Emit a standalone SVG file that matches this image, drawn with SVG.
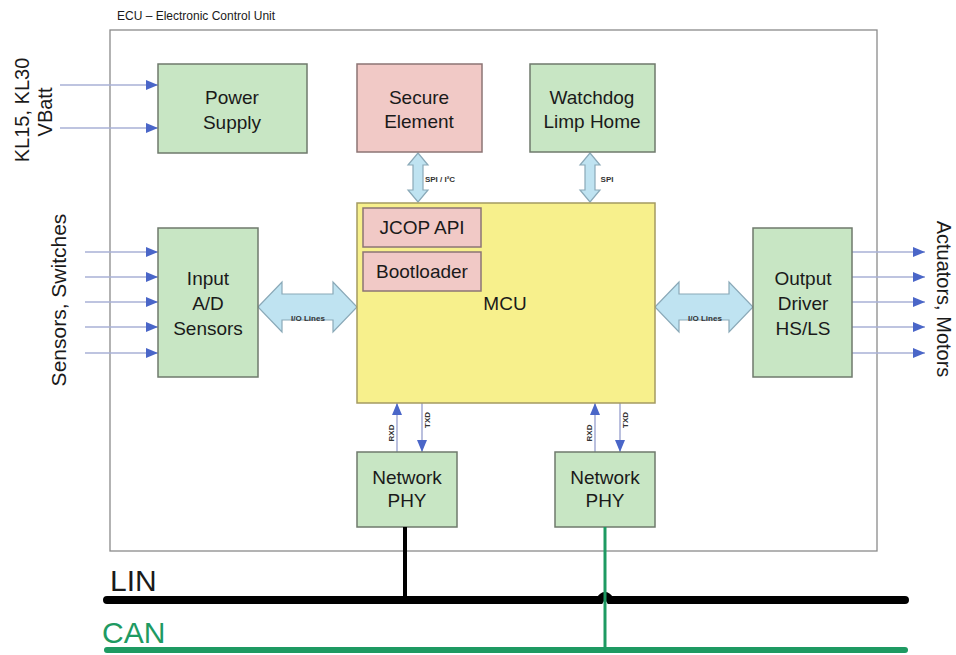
<svg xmlns="http://www.w3.org/2000/svg" width="956" height="655" viewBox="0 0 956 655">
<style>
text{font-family:"Liberation Sans",Arial,sans-serif;fill:#1a1a1a}
.box{stroke:#6f7a6c;stroke-width:1.5}
.g{fill:#c8e6c4}
.p{fill:#f1c9c6;stroke:#8c7474}
.y{fill:#f7f08c;stroke:#a49a62}
.lbl{font-size:19px;text-anchor:middle}
.small{font-size:8px;text-anchor:middle;font-weight:bold;fill:#333}
.in{stroke:#a9b0d6;stroke-width:1.6;fill:none}
.dbl{fill:#bfe3f1;stroke:#8aa9b8;stroke-width:1.2}
</style>
<defs>
<marker id="ah" viewBox="0 0 12 10" refX="12" refY="5" markerWidth="12" markerHeight="10" markerUnits="userSpaceOnUse" orient="auto">
<path d="M0,0 L12,5 L0,10 z" fill="#4a66c8"/>
</marker>
</defs>
<rect width="956" height="655" fill="#ffffff"/>

<g id="ecu">
<rect x="110" y="30" width="767" height="521" fill="none" stroke="#8a8a8a" stroke-width="1.3"/>
<text x="117" y="20" font-size="12">ECU – Electronic Control Unit</text>
</g>

<g id="side-labels">
<text transform="translate(29,110) rotate(-90)" font-size="20" text-anchor="middle">KL15, KL30</text>
<text transform="translate(52,112) rotate(-90)" font-size="20" text-anchor="middle">VBatt</text>
<text transform="translate(66,300) rotate(-90)" font-size="21" text-anchor="middle">Sensors, Switches</text>
<text transform="translate(937,299) rotate(90)" font-size="20" text-anchor="middle">Actuators, Motors</text>
</g>

<g id="connectors">
<line class="in" x1="60" y1="85" x2="158" y2="85" marker-end="url(#ah)"/>
<line class="in" x1="60" y1="128" x2="158" y2="128" marker-end="url(#ah)"/>
<line class="in" x1="85" y1="252" x2="158" y2="252" marker-end="url(#ah)"/>
<line class="in" x1="85" y1="277" x2="158" y2="277" marker-end="url(#ah)"/>
<line class="in" x1="85" y1="302" x2="158" y2="302" marker-end="url(#ah)"/>
<line class="in" x1="85" y1="327" x2="158" y2="327" marker-end="url(#ah)"/>
<line class="in" x1="85" y1="353" x2="158" y2="353" marker-end="url(#ah)"/>
<line class="in" x1="852" y1="252" x2="925" y2="252" marker-end="url(#ah)"/>
<line class="in" x1="852" y1="277" x2="925" y2="277" marker-end="url(#ah)"/>
<line class="in" x1="852" y1="302" x2="925" y2="302" marker-end="url(#ah)"/>
<line class="in" x1="852" y1="327" x2="925" y2="327" marker-end="url(#ah)"/>
<line class="in" x1="852" y1="353" x2="925" y2="353" marker-end="url(#ah)"/>

<polygon class="dbl" points="258,307 282,282 282,294 333,294 333,282 357,307 333,332 333,320 282,320 282,332"/>
<text class="small" x="308" y="321">I/O Lines</text>
<polygon class="dbl" points="655,307 679,282 679,294 729,294 729,282 753,307 729,332 729,320 679,320 679,332"/>
<text class="small" x="705" y="321">I/O Lines</text>

<polygon class="dbl" points="418,153 428,165 423,165 423,190 428,190 418,202 408,190 413,190 413,165 408,165"/>
<text class="small" x="440" y="182">SPI / I²C</text>
<polygon class="dbl" points="590,153 600,165 595,165 595,190 600,190 590,202 580,190 585,190 585,165 580,165"/>
<text class="small" x="607" y="182">SPI</text>

<line class="in" x1="397" y1="452" x2="397" y2="403" marker-end="url(#ah)"/>
<line class="in" x1="422" y1="403" x2="422" y2="452" marker-end="url(#ah)"/>
<line class="in" x1="595" y1="452" x2="595" y2="403" marker-end="url(#ah)"/>
<line class="in" x1="620" y1="403" x2="620" y2="452" marker-end="url(#ah)"/>
<text class="small" transform="translate(394,433) rotate(-90)">RXD</text>
<text class="small" transform="translate(430,420) rotate(-90)">TXD</text>
<text class="small" transform="translate(592,433) rotate(-90)">RXD</text>
<text class="small" transform="translate(628,420) rotate(-90)">TXD</text>
</g>

<g id="power-supply">
<rect class="box g" x="158" y="64" width="149" height="89"/>
<text class="lbl" x="232" y="104">Power</text>
<text class="lbl" x="232" y="129">Supply</text>
</g>

<g id="secure-element">
<rect class="box p" x="357" y="64" width="125" height="88"/>
<text class="lbl" x="419" y="104">Secure</text>
<text class="lbl" x="419" y="128">Element</text>
</g>

<g id="watchdog">
<rect class="box g" x="530" y="64" width="125" height="88"/>
<text class="lbl" x="592" y="104">Watchdog</text>
<text class="lbl" x="592" y="128">Limp Home</text>
</g>

<g id="input">
<rect class="box g" x="158" y="228" width="100" height="149"/>
<text class="lbl" x="208" y="285">Input</text>
<text class="lbl" x="208" y="310">A/D</text>
<text class="lbl" x="208" y="335">Sensors</text>
</g>

<g id="mcu">
<rect class="box y" x="357" y="203" width="298" height="200"/>
<text class="lbl" x="505" y="310">MCU</text>
</g>

<g id="jcop">
<rect class="box p" x="363" y="208" width="118" height="39"/>
<text class="lbl" x="422" y="234" font-size="18">JCOP API</text>
</g>

<g id="bootloader">
<rect class="box p" x="363" y="252" width="118" height="39"/>
<text class="lbl" x="422" y="278" font-size="18">Bootloader</text>
</g>

<g id="output">
<rect class="box g" x="753" y="228" width="99" height="149"/>
<text class="lbl" x="803" y="285">Output</text>
<text class="lbl" x="803" y="310">Driver</text>
<text class="lbl" x="803" y="335">HS/LS</text>
</g>

<g id="phy1">
<rect class="box g" x="357" y="452" width="100" height="75"/>
<text class="lbl" x="407" y="484">Network</text>
<text class="lbl" x="407" y="507">PHY</text>
</g>

<g id="phy2">
<rect class="box g" x="555" y="452" width="100" height="75"/>
<text class="lbl" x="605" y="484">Network</text>
<text class="lbl" x="605" y="507">PHY</text>
</g>

<g id="buses">
<line x1="405" y1="527" x2="405" y2="600" stroke="#000" stroke-width="4"/>
<path d="M107,600 H600 Q605,592 610,600 H905" stroke="#000" stroke-width="8" fill="none" stroke-linecap="round"/>
<line x1="107" y1="650" x2="905" y2="650" stroke="#1e9a62" stroke-width="6" stroke-linecap="round"/>
<line x1="605" y1="527" x2="605" y2="650" stroke="#1e9a62" stroke-width="3"/>
<text x="110" y="591" font-size="30" fill="#000">LIN</text>
<text x="102" y="643" font-size="30" style="fill:#1e9a62">CAN</text>
</g>
</svg>
